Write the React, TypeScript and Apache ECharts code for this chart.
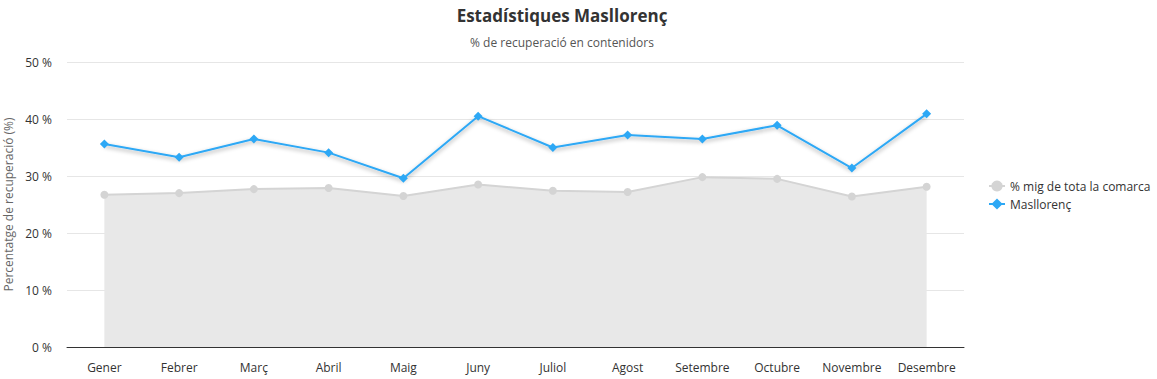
import React, { useEffect, useRef } from "react";
import * as echarts from "echarts";

const months = ["Gener", "Febrer", "Març", "Abril", "Maig", "Juny", "Juliol", "Agost", "Setembre", "Octubre", "Novembre", "Desembre"];
const comarcaAvg = [26.7, 27.0, 27.7, 27.9, 26.5, 28.5, 27.4, 27.2, 29.8, 29.5, 26.4, 28.1];
const masllorenc = [35.6, 33.3, 36.5, 34.1, 29.6, 40.5, 35.0, 37.2, 36.5, 38.9, 31.4, 40.9];

const FONT = "'Open Sans', 'Noto Sans', sans-serif";

export default function App() {
  const ref = useRef<HTMLDivElement>(null);
  useEffect(() => {
    if (!ref.current) return;
    const chart = echarts.init(ref.current, undefined, { renderer: "svg" });
    chart.setOption({
      animation: false,
      textStyle: { fontFamily: FONT },
      title: [
        {
          text: "Estadístiques Masllorenç",
          left: 557,
          textAlign: "center",
          top: 2,
          textStyle: { fontFamily: FONT, fontSize: 17, fontWeight: "bold", color: "#333" },
        },
        {
          text: "% de recuperació en contenidors",
          left: 557,
          textAlign: "center",
          top: 31,
          textStyle: { fontFamily: FONT, fontSize: 12, fontWeight: "normal", color: "#555" },
        },
      ],
      legend: {
        orient: "vertical",
        left: 983,
        top: 175,
        itemWidth: 16,
        itemHeight: 14,
        itemGap: 6,
        textStyle: { fontFamily: FONT, fontSize: 12, color: "#333" },
        data: ["% mig de tota la comarca", "Masllorenç"],
      },
      grid: { left: 67, right: 193, top: 62, bottom: 32, containLabel: false, outerBoundsMode: "none" },
      xAxis: {
        type: "category",
        data: months,
        boundaryGap: true,
        axisLine: { lineStyle: { color: "#333", width: 1 } },
        axisTick: { show: false },
        axisLabel: { color: "#333", fontSize: 12, fontFamily: FONT, margin: 14, interval: 0 },
      },
      yAxis: {
        type: "value",
        min: 0,
        max: 50,
        interval: 10,
        name: "Percentatge de recuperació (%)",
        nameLocation: "middle",
        nameGap: 47,
        nameTextStyle: { color: "#666", fontSize: 12, fontFamily: FONT },
        axisLabel: { formatter: "{value} %", color: "#333", fontSize: 12, fontFamily: FONT, margin: 15 },
        splitLine: { lineStyle: { color: "#e6e6e6" } },
        axisLine: { show: false },
        axisTick: { show: false },
      },
      series: [
        {
          name: "% mig de tota la comarca",
          type: "line",
          data: comarcaAvg,
          symbol: "circle",
          symbolSize: 8,
          itemStyle: { color: "#d4d4d4" },
          lineStyle: { color: "#d4d4d4", width: 2 },
          areaStyle: { color: "#e8e8e8", opacity: 1 },
        },
        {
          name: "Masllorenç",
          type: "line",
          data: masllorenc,
          symbol: "diamond",
          symbolSize: 9,
          itemStyle: { color: "#2da8f5" },
          lineStyle: {
            color: "#2da8f5",
            width: 2,
            shadowColor: "rgba(0,0,0,0.35)",
            shadowBlur: 4,
            shadowOffsetY: 2,
          },
        },
      ],
    });
    return () => chart.dispose();
  }, []);
  return <div ref={ref} style={{ width: 1157, height: 379, position: "absolute", left: 0, top: 0 }} />;
}
